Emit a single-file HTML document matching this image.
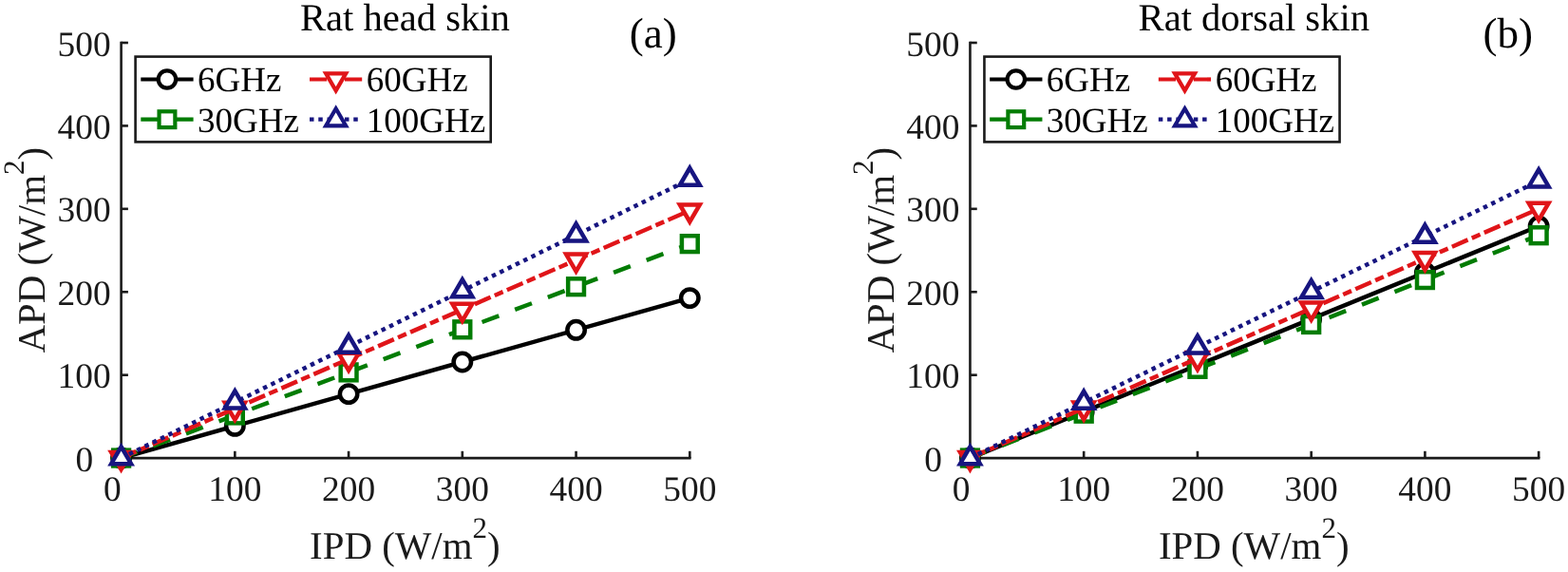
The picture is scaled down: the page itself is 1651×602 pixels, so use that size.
<!DOCTYPE html>
<html lang="en"><head><meta charset="utf-8"><title>APD vs IPD</title>
<style>html,body{margin:0;padding:0;background:#fff;overflow:hidden}svg{display:block}</style></head>
<body>
<svg width="1651" height="602" viewBox="0 0 1651 602" text-rendering="geometricPrecision">
<rect width="1651" height="602" fill="#fff"/>
<g stroke="#1a1a1a" stroke-width="2.6" fill="none" stroke-linecap="butt">
<path d="M127.60 43.70 V483.40"/>
<path d="M126.30 482.10 H727.60"/>
<path d="M127.60 482.10 v-7.3"/>
<path d="M127.60 482.10 h7.3"/>
<path d="M247.34 482.10 v-7.3"/>
<path d="M127.60 394.68 h7.3"/>
<path d="M367.08 482.10 v-7.3"/>
<path d="M127.60 307.26 h7.3"/>
<path d="M486.82 482.10 v-7.3"/>
<path d="M127.60 219.84 h7.3"/>
<path d="M606.56 482.10 v-7.3"/>
<path d="M127.60 132.42 h7.3"/>
<path d="M726.30 482.10 v-7.3"/>
<path d="M127.60 45.00 h7.3"/>
</g>
<g font-family="'Liberation Serif', 'DejaVu Serif', serif" font-size="37.4" fill="#1a1a1a">
<text x="118.30" y="526.8" text-anchor="middle">0</text>
<text x="98.10" y="495.70" text-anchor="end">0</text>
<text x="247.34" y="526.8" text-anchor="middle">100</text>
<text x="116.60" y="408.28" text-anchor="end">100</text>
<text x="367.08" y="526.8" text-anchor="middle">200</text>
<text x="116.60" y="320.86" text-anchor="end">200</text>
<text x="486.82" y="526.8" text-anchor="middle">300</text>
<text x="116.60" y="233.44" text-anchor="end">300</text>
<text x="606.56" y="526.8" text-anchor="middle">400</text>
<text x="116.60" y="146.02" text-anchor="end">400</text>
<text x="726.30" y="526.8" text-anchor="middle">500</text>
<text x="116.60" y="58.60" text-anchor="end">500</text>
</g>
<g font-family="'Liberation Serif', 'DejaVu Serif', serif" font-size="40.9" fill="#1a1a1a">
<text x="426.35" y="587.5" text-anchor="middle">IPD (W/m<tspan font-size="31.0" dy="-21.5">2</tspan><tspan dy="21.5">)</tspan></text>
<text transform="translate(46.80 263.2) rotate(-90)" text-anchor="middle">APD (W/m<tspan font-size="31.0" dy="-21.5">2</tspan><tspan dy="21.5">)</tspan></text>
<text x="426.45" y="31.6" font-size="40.6" text-anchor="middle" fill="#000">Rat head skin</text>
<text x="687.85" y="50.3" font-size="45" text-anchor="middle" fill="#000">(a)</text>
</g>
<path d="M127.60 482.05 L726.30 313.58" stroke="#000000" stroke-width="4.5" fill="none"/>
<circle cx="127.60" cy="482.05" r="9.2" fill="#fff" stroke="#000000" stroke-width="4.5" stroke-linejoin="miter" stroke-miterlimit="10"/>
<circle cx="247.34" cy="448.36" r="9.2" fill="#fff" stroke="#000000" stroke-width="4.5" stroke-linejoin="miter" stroke-miterlimit="10"/>
<circle cx="367.08" cy="414.66" r="9.2" fill="#fff" stroke="#000000" stroke-width="4.5" stroke-linejoin="miter" stroke-miterlimit="10"/>
<circle cx="486.82" cy="380.97" r="9.2" fill="#fff" stroke="#000000" stroke-width="4.5" stroke-linejoin="miter" stroke-miterlimit="10"/>
<circle cx="606.56" cy="347.28" r="9.2" fill="#fff" stroke="#000000" stroke-width="4.5" stroke-linejoin="miter" stroke-miterlimit="10"/>
<circle cx="726.30" cy="313.58" r="9.2" fill="#fff" stroke="#000000" stroke-width="4.5" stroke-linejoin="miter" stroke-miterlimit="10"/>
<path d="M127.60 482.05 L726.30 256.64" stroke="#037c04" stroke-width="4.5" fill="none" stroke-dasharray="19 18" stroke-dashoffset="1.0"/>
<rect x="119.20" y="473.65" width="16.8" height="16.8" fill="#fff" stroke="#037c04" stroke-width="4.5" stroke-linejoin="miter" stroke-miterlimit="10"/>
<rect x="238.94" y="428.57" width="16.8" height="16.8" fill="#fff" stroke="#037c04" stroke-width="4.5" stroke-linejoin="miter" stroke-miterlimit="10"/>
<rect x="358.68" y="383.49" width="16.8" height="16.8" fill="#fff" stroke="#037c04" stroke-width="4.5" stroke-linejoin="miter" stroke-miterlimit="10"/>
<rect x="478.42" y="338.40" width="16.8" height="16.8" fill="#fff" stroke="#037c04" stroke-width="4.5" stroke-linejoin="miter" stroke-miterlimit="10"/>
<rect x="598.16" y="293.32" width="16.8" height="16.8" fill="#fff" stroke="#037c04" stroke-width="4.5" stroke-linejoin="miter" stroke-miterlimit="10"/>
<rect x="717.90" y="248.24" width="16.8" height="16.8" fill="#fff" stroke="#037c04" stroke-width="4.5" stroke-linejoin="miter" stroke-miterlimit="10"/>
<path d="M127.60 482.05 L726.30 221.56" stroke="#e01519" stroke-width="4.5" fill="none" stroke-dasharray="18.2 4.6 9.6 4.6" stroke-dashoffset="1.0"/>
<path d="M127.60 493.95 L138.10 475.95 L117.10 475.95 Z" fill="#fff" stroke="#e01519" stroke-width="4.5" stroke-linejoin="miter" stroke-miterlimit="10"/>
<path d="M247.34 441.85 L257.84 423.85 L236.84 423.85 Z" fill="#fff" stroke="#e01519" stroke-width="4.5" stroke-linejoin="miter" stroke-miterlimit="10"/>
<path d="M367.08 389.76 L377.58 371.76 L356.58 371.76 Z" fill="#fff" stroke="#e01519" stroke-width="4.5" stroke-linejoin="miter" stroke-miterlimit="10"/>
<path d="M486.82 337.66 L497.32 319.66 L476.32 319.66 Z" fill="#fff" stroke="#e01519" stroke-width="4.5" stroke-linejoin="miter" stroke-miterlimit="10"/>
<path d="M606.56 285.56 L617.06 267.56 L596.06 267.56 Z" fill="#fff" stroke="#e01519" stroke-width="4.5" stroke-linejoin="miter" stroke-miterlimit="10"/>
<path d="M726.30 233.46 L736.80 215.46 L715.80 215.46 Z" fill="#fff" stroke="#e01519" stroke-width="4.5" stroke-linejoin="miter" stroke-miterlimit="10"/>
<path d="M127.60 482.05 L726.30 188.68" stroke="#171580" stroke-width="4.5" fill="none" stroke-dasharray="4.5 4.75" stroke-dashoffset="0"/>
<path d="M127.60 470.15 L138.10 488.15 L117.10 488.15 Z" fill="#fff" stroke="#171580" stroke-width="4.5" stroke-linejoin="miter" stroke-miterlimit="10"/>
<path d="M247.34 411.48 L257.84 429.48 L236.84 429.48 Z" fill="#fff" stroke="#171580" stroke-width="4.5" stroke-linejoin="miter" stroke-miterlimit="10"/>
<path d="M367.08 352.80 L377.58 370.80 L356.58 370.80 Z" fill="#fff" stroke="#171580" stroke-width="4.5" stroke-linejoin="miter" stroke-miterlimit="10"/>
<path d="M486.82 294.13 L497.32 312.13 L476.32 312.13 Z" fill="#fff" stroke="#171580" stroke-width="4.5" stroke-linejoin="miter" stroke-miterlimit="10"/>
<path d="M606.56 235.45 L617.06 253.45 L596.06 253.45 Z" fill="#fff" stroke="#171580" stroke-width="4.5" stroke-linejoin="miter" stroke-miterlimit="10"/>
<path d="M726.30 176.78 L736.80 194.78 L715.80 194.78 Z" fill="#fff" stroke="#171580" stroke-width="4.5" stroke-linejoin="miter" stroke-miterlimit="10"/>
<rect x="142.60" y="59.60" width="374.10" height="89.80" fill="#fff" stroke="#1a1a1a" stroke-width="2.6"/>
<path d="M148.30 83.50 H203.60" stroke="#000000" stroke-width="4.2" fill="none"/>
<circle cx="175.95" cy="83.50" r="9.2" fill="#fff" stroke="#000000" stroke-width="4.2" stroke-linejoin="miter" stroke-miterlimit="10"/>
<text x="208.00" y="96.10" font-family="'Liberation Serif', 'DejaVu Serif', serif" font-size="37.0" fill="#000">6GHz</text>
<path d="M148.30 125.70 H203.60" stroke="#037c04" stroke-width="4.2" fill="none" stroke-dasharray="19 18"/>
<rect x="167.55" y="117.30" width="16.8" height="16.8" fill="#fff" stroke="#037c04" stroke-width="4.2" stroke-linejoin="miter" stroke-miterlimit="10"/>
<text x="208.00" y="139.40" font-family="'Liberation Serif', 'DejaVu Serif', serif" font-size="37.0" fill="#000">30GHz</text>
<path d="M326.00 83.50 H381.30" stroke="#e01519" stroke-width="4.2" fill="none" stroke-dasharray="18.2 4.6 9.6 4.6"/>
<path d="M353.65 95.40 L364.15 77.40 L343.15 77.40 Z" fill="#fff" stroke="#e01519" stroke-width="4.2" stroke-linejoin="miter" stroke-miterlimit="10"/>
<text x="385.80" y="96.10" font-family="'Liberation Serif', 'DejaVu Serif', serif" font-size="37.0" fill="#000">60GHz</text>
<path d="M326.00 125.70 H381.30" stroke="#171580" stroke-width="4.2" fill="none" stroke-dasharray="4.5 4.75"/>
<path d="M353.65 114.30 L364.15 132.30 L343.15 132.30 Z" fill="#fff" stroke="#171580" stroke-width="4.2" stroke-linejoin="miter" stroke-miterlimit="10"/>
<text x="385.80" y="139.40" font-family="'Liberation Serif', 'DejaVu Serif', serif" font-size="37.0" fill="#000">100GHz</text>
<g stroke="#1a1a1a" stroke-width="2.6" fill="none" stroke-linecap="butt">
<path d="M1021.45 43.70 V483.40"/>
<path d="M1020.15 482.10 H1621.45"/>
<path d="M1021.45 482.10 v-7.3"/>
<path d="M1021.45 482.10 h7.3"/>
<path d="M1141.19 482.10 v-7.3"/>
<path d="M1021.45 394.68 h7.3"/>
<path d="M1260.93 482.10 v-7.3"/>
<path d="M1021.45 307.26 h7.3"/>
<path d="M1380.67 482.10 v-7.3"/>
<path d="M1021.45 219.84 h7.3"/>
<path d="M1500.41 482.10 v-7.3"/>
<path d="M1021.45 132.42 h7.3"/>
<path d="M1620.15 482.10 v-7.3"/>
<path d="M1021.45 45.00 h7.3"/>
</g>
<g font-family="'Liberation Serif', 'DejaVu Serif', serif" font-size="37.4" fill="#1a1a1a">
<text x="1012.15" y="526.8" text-anchor="middle">0</text>
<text x="991.95" y="495.70" text-anchor="end">0</text>
<text x="1141.19" y="526.8" text-anchor="middle">100</text>
<text x="1010.45" y="408.28" text-anchor="end">100</text>
<text x="1260.93" y="526.8" text-anchor="middle">200</text>
<text x="1010.45" y="320.86" text-anchor="end">200</text>
<text x="1380.67" y="526.8" text-anchor="middle">300</text>
<text x="1010.45" y="233.44" text-anchor="end">300</text>
<text x="1500.41" y="526.8" text-anchor="middle">400</text>
<text x="1010.45" y="146.02" text-anchor="end">400</text>
<text x="1620.15" y="526.8" text-anchor="middle">500</text>
<text x="1010.45" y="58.60" text-anchor="end">500</text>
</g>
<g font-family="'Liberation Serif', 'DejaVu Serif', serif" font-size="40.9" fill="#1a1a1a">
<text x="1320.20" y="587.5" text-anchor="middle">IPD (W/m<tspan font-size="31.0" dy="-21.5">2</tspan><tspan dy="21.5">)</tspan></text>
<text transform="translate(940.65 263.2) rotate(-90)" text-anchor="middle">APD (W/m<tspan font-size="31.0" dy="-21.5">2</tspan><tspan dy="21.5">)</tspan></text>
<text x="1320.30" y="31.6" font-size="40.6" text-anchor="middle" fill="#000">Rat dorsal skin</text>
<text x="1587.85" y="49.9" font-size="45" text-anchor="middle" fill="#000">(b)</text>
</g>
<path d="M1021.45 482.05 L1620.15 238.01" stroke="#000000" stroke-width="4.5" fill="none"/>
<circle cx="1021.45" cy="482.05" r="9.2" fill="#fff" stroke="#000000" stroke-width="4.5" stroke-linejoin="miter" stroke-miterlimit="10"/>
<circle cx="1141.19" cy="433.24" r="9.2" fill="#fff" stroke="#000000" stroke-width="4.5" stroke-linejoin="miter" stroke-miterlimit="10"/>
<circle cx="1260.93" cy="384.43" r="9.2" fill="#fff" stroke="#000000" stroke-width="4.5" stroke-linejoin="miter" stroke-miterlimit="10"/>
<circle cx="1380.67" cy="335.63" r="9.2" fill="#fff" stroke="#000000" stroke-width="4.5" stroke-linejoin="miter" stroke-miterlimit="10"/>
<circle cx="1500.41" cy="286.82" r="9.2" fill="#fff" stroke="#000000" stroke-width="4.5" stroke-linejoin="miter" stroke-miterlimit="10"/>
<circle cx="1620.15" cy="238.01" r="9.2" fill="#fff" stroke="#000000" stroke-width="4.5" stroke-linejoin="miter" stroke-miterlimit="10"/>
<path d="M1021.45 482.05 L1620.15 247.72" stroke="#037c04" stroke-width="4.5" fill="none" stroke-dasharray="19 18" stroke-dashoffset="1.0"/>
<rect x="1013.05" y="473.65" width="16.8" height="16.8" fill="#fff" stroke="#037c04" stroke-width="4.5" stroke-linejoin="miter" stroke-miterlimit="10"/>
<rect x="1132.79" y="426.78" width="16.8" height="16.8" fill="#fff" stroke="#037c04" stroke-width="4.5" stroke-linejoin="miter" stroke-miterlimit="10"/>
<rect x="1252.53" y="379.92" width="16.8" height="16.8" fill="#fff" stroke="#037c04" stroke-width="4.5" stroke-linejoin="miter" stroke-miterlimit="10"/>
<rect x="1372.27" y="333.05" width="16.8" height="16.8" fill="#fff" stroke="#037c04" stroke-width="4.5" stroke-linejoin="miter" stroke-miterlimit="10"/>
<rect x="1492.01" y="286.18" width="16.8" height="16.8" fill="#fff" stroke="#037c04" stroke-width="4.5" stroke-linejoin="miter" stroke-miterlimit="10"/>
<rect x="1611.75" y="239.32" width="16.8" height="16.8" fill="#fff" stroke="#037c04" stroke-width="4.5" stroke-linejoin="miter" stroke-miterlimit="10"/>
<path d="M1021.45 482.05 L1620.15 219.73" stroke="#e01519" stroke-width="4.5" fill="none" stroke-dasharray="18.2 4.6 9.6 4.6" stroke-dashoffset="1.0"/>
<path d="M1021.45 493.95 L1031.95 475.95 L1010.95 475.95 Z" fill="#fff" stroke="#e01519" stroke-width="4.5" stroke-linejoin="miter" stroke-miterlimit="10"/>
<path d="M1141.19 441.49 L1151.69 423.49 L1130.69 423.49 Z" fill="#fff" stroke="#e01519" stroke-width="4.5" stroke-linejoin="miter" stroke-miterlimit="10"/>
<path d="M1260.93 389.02 L1271.43 371.02 L1250.43 371.02 Z" fill="#fff" stroke="#e01519" stroke-width="4.5" stroke-linejoin="miter" stroke-miterlimit="10"/>
<path d="M1380.67 336.56 L1391.17 318.56 L1370.17 318.56 Z" fill="#fff" stroke="#e01519" stroke-width="4.5" stroke-linejoin="miter" stroke-miterlimit="10"/>
<path d="M1500.41 284.09 L1510.91 266.09 L1489.91 266.09 Z" fill="#fff" stroke="#e01519" stroke-width="4.5" stroke-linejoin="miter" stroke-miterlimit="10"/>
<path d="M1620.15 231.63 L1630.65 213.63 L1609.65 213.63 Z" fill="#fff" stroke="#e01519" stroke-width="4.5" stroke-linejoin="miter" stroke-miterlimit="10"/>
<path d="M1021.45 482.05 L1620.15 190.34" stroke="#171580" stroke-width="4.5" fill="none" stroke-dasharray="4.5 4.75" stroke-dashoffset="0"/>
<path d="M1021.45 470.15 L1031.95 488.15 L1010.95 488.15 Z" fill="#fff" stroke="#171580" stroke-width="4.5" stroke-linejoin="miter" stroke-miterlimit="10"/>
<path d="M1141.19 411.81 L1151.69 429.81 L1130.69 429.81 Z" fill="#fff" stroke="#171580" stroke-width="4.5" stroke-linejoin="miter" stroke-miterlimit="10"/>
<path d="M1260.93 353.47 L1271.43 371.47 L1250.43 371.47 Z" fill="#fff" stroke="#171580" stroke-width="4.5" stroke-linejoin="miter" stroke-miterlimit="10"/>
<path d="M1380.67 295.12 L1391.17 313.12 L1370.17 313.12 Z" fill="#fff" stroke="#171580" stroke-width="4.5" stroke-linejoin="miter" stroke-miterlimit="10"/>
<path d="M1500.41 236.78 L1510.91 254.78 L1489.91 254.78 Z" fill="#fff" stroke="#171580" stroke-width="4.5" stroke-linejoin="miter" stroke-miterlimit="10"/>
<path d="M1620.15 178.44 L1630.65 196.44 L1609.65 196.44 Z" fill="#fff" stroke="#171580" stroke-width="4.5" stroke-linejoin="miter" stroke-miterlimit="10"/>
<rect x="1036.45" y="59.60" width="374.10" height="89.80" fill="#fff" stroke="#1a1a1a" stroke-width="2.6"/>
<path d="M1042.15 83.50 H1097.45" stroke="#000000" stroke-width="4.2" fill="none"/>
<circle cx="1069.80" cy="83.50" r="9.2" fill="#fff" stroke="#000000" stroke-width="4.2" stroke-linejoin="miter" stroke-miterlimit="10"/>
<text x="1101.85" y="96.10" font-family="'Liberation Serif', 'DejaVu Serif', serif" font-size="37.0" fill="#000">6GHz</text>
<path d="M1042.15 125.70 H1097.45" stroke="#037c04" stroke-width="4.2" fill="none" stroke-dasharray="19 18"/>
<rect x="1061.40" y="117.30" width="16.8" height="16.8" fill="#fff" stroke="#037c04" stroke-width="4.2" stroke-linejoin="miter" stroke-miterlimit="10"/>
<text x="1101.85" y="139.40" font-family="'Liberation Serif', 'DejaVu Serif', serif" font-size="37.0" fill="#000">30GHz</text>
<path d="M1219.85 83.50 H1275.15" stroke="#e01519" stroke-width="4.2" fill="none" stroke-dasharray="18.2 4.6 9.6 4.6"/>
<path d="M1247.50 95.40 L1258.00 77.40 L1237.00 77.40 Z" fill="#fff" stroke="#e01519" stroke-width="4.2" stroke-linejoin="miter" stroke-miterlimit="10"/>
<text x="1279.65" y="96.10" font-family="'Liberation Serif', 'DejaVu Serif', serif" font-size="37.0" fill="#000">60GHz</text>
<path d="M1219.85 125.70 H1275.15" stroke="#171580" stroke-width="4.2" fill="none" stroke-dasharray="4.5 4.75"/>
<path d="M1247.50 114.30 L1258.00 132.30 L1237.00 132.30 Z" fill="#fff" stroke="#171580" stroke-width="4.2" stroke-linejoin="miter" stroke-miterlimit="10"/>
<text x="1279.65" y="139.40" font-family="'Liberation Serif', 'DejaVu Serif', serif" font-size="37.0" fill="#000">100GHz</text>
</svg>
</body></html>
